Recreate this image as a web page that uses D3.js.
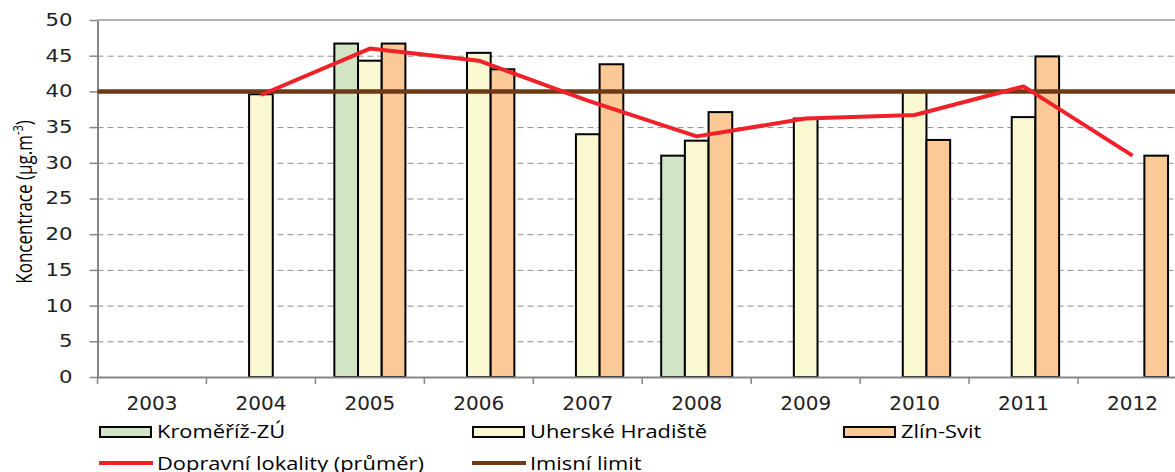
<!DOCTYPE html>
<html>
<head>
<meta charset="utf-8">
<script src="https://cdn.jsdelivr.net/npm/d3@7"></script>
<style>
body { margin: 0; background: #fff; }
svg { display: block; background: #fff; }
</style>
</head>
<body>
<svg class="chart"></svg>
<script>
// data
const years = ["2003", "2004", "2005", "2006", "2007", "2008", "2009", "2010", "2011", "2012"]
const kromeriz = [null, null, 46.7, null, null, 31.0, null, null, null, null]
const uherske = [null, 39.6, 44.3, 45.4, 34.0, 33.1, 36.2, 39.9, 36.4, null]
const zlin = [null, null, 46.7, 43.1, 43.8, 37.1, null, 33.2, 44.9, 31.0]
const doprava = [null, 39.5, 46.0, 44.3, 38.7, 33.7, 36.2, 36.7, 40.7, 31.0]
const limit = 40
const yTicks = [0, 5, 10, 15, 20, 25, 30, 35, 40, 45, 50]
const barNames = ["Kroměříž-ZÚ", "Uherské Hradiště", "Zlín-Svit"]
const lineNames = ["Dopravní lokality (průměr)", "Imisní limit"]

const barColors = ["#d1e5c4", "#faf8d0", "#fbc996"]
const lineColors = ["#ee2228", "#6b3a16"]
const stretch = "scale(1.25,1)"

const width = 1175, height = 472
const plotLeft = 97.5, plotRight = 1187, plotTop = 20, plotBottom = 377

const svg = d3.select("svg.chart")
    .attr("width", width)
    .attr("height", height)

const xScale = d3.scaleBand()
    .domain(years)
    .range([plotLeft, plotRight])

const bw = xScale.bandwidth()

const xSub = d3.scaleBand()
    .domain(barNames)
    .range([0, bw])
    .paddingOuter(0.8)

const yScale = d3.scaleLinear()
    .domain([0, 50])
    .range([plotBottom, plotTop])

// gridlines
const grid = svg.append("g")
    .attr("transform", "translate(" + plotLeft + ",0)")
    .call(d3.axisLeft(yScale).tickValues(yTicks.slice(1, -1)).tickSize(-(plotRight - plotLeft)).tickFormat(""))
grid.select(".domain").remove()
grid.selectAll("line")
    .attr("stroke", "#8e8e8e")
    .attr("stroke-dasharray", "6,4")

svg.append("line")
    .attr("x1", plotLeft).attr("x2", plotRight)
    .attr("y1", yScale(50)).attr("y2", yScale(50))
    .attr("stroke", "#9a9a9a")
    .attr("stroke-width", 1.5)

// bars
const barSeries = [kromeriz, uherske, zlin]
barSeries.forEach((values, s) => {
    svg.append("g")
        .selectAll("rect")
        .data(values.map((v, i) => ({ year: years[i], value: v })).filter(d => d.value != null))
        .enter()
        .append("rect")
        .attr("x", d => xScale(d.year) + xSub(barNames[s]))
        .attr("y", d => yScale(d.value))
        .attr("width", xSub.bandwidth())
        .attr("height", d => yScale(0) - yScale(d.value))
        .attr("fill", barColors[s])
        .attr("stroke", "#000")
        .attr("stroke-width", 2)
})

// y axis
const yAxis = svg.append("g")
    .attr("transform", "translate(" + plotLeft + ",0)")
    .call(d3.axisLeft(yScale).tickValues(yTicks).tickSize(8).tickSizeOuter(0))
yAxis.select(".domain").attr("stroke", "#868686").attr("stroke-width", 2)
yAxis.selectAll("line").attr("stroke", "#868686").attr("stroke-width", 1.5)
yAxis.selectAll("text")
    .attr("x", -20)
    .attr("transform", stretch)
    .style("font-family", "DejaVu Sans")
    .style("font-size", "17px")
    .attr("fill", "#222")

// x axis: labels at centres, ticks at category edges
const xAxis = svg.append("g")
    .attr("transform", "translate(0," + plotBottom + ")")
    .call(d3.axisBottom(xScale).tickSize(0).tickSizeOuter(0))
xAxis.select(".domain").attr("stroke", "#868686").attr("stroke-width", 2)
xAxis.selectAll("text")
    .attr("y", 33)
    .attr("dy", 0)
    .style("font-family", "DejaVu Sans")
    .style("font-size", "20px")
    .attr("fill", "#222")

xAxis.selectAll(".edge")
    .data(years)
    .enter()
    .append("line")
    .classed("edge", true)
    .attr("x1", d => xScale(d)).attr("x2", d => xScale(d))
    .attr("y1", 0).attr("y2", 7)
    .attr("stroke", "#868686")
    .attr("stroke-width", 1.5)

// limit line
svg.append("path")
    .datum(xScale.range())
    .attr("d", d3.line().x(d => d).y(() => yScale(limit)))
    .attr("stroke", lineColors[1])
    .attr("stroke-width", 4.5)
    .attr("fill", "none")

// average line
const avgLine = d3.line()
    .defined(d => d != null)
    .x((d, i) => xScale(years[i]) + bw / 2)
    .y(d => yScale(d))

svg.append("path")
    .datum(doprava)
    .attr("d", avgLine)
    .attr("stroke", lineColors[0])
    .attr("stroke-width", 4)
    .attr("stroke-linejoin", "round")
    .attr("fill", "none")

// y title
const title = svg.append("text")
    .attr("transform", "translate(32,202) " + stretch + " rotate(-90)")
    .attr("text-anchor", "middle")
    .style("font-family", "Open Sans")
    .style("font-size", "17px")
    .attr("fill", "#000")
title.append("tspan").text("Koncentrace (µg.m")
title.append("tspan").attr("dy", -7).style("font-size", "11px").text("-3")
title.append("tspan").attr("dy", 7).text(")")

// legend
const legendCols = [99, 472, 843]
const legendRows = [432, 463]

barNames.forEach((name, i) => {
    const g = svg.append("g").attr("transform", "translate(" + legendCols[i] + "," + legendRows[0] + ")")
    g.append("rect")
        .attr("x", 1).attr("y", -5)
        .attr("width", 51).attr("height", 10)
        .attr("fill", barColors[i])
        .attr("stroke", "#000")
        .attr("stroke-width", 2)
    g.append("text")
        .attr("transform", "translate(58,6) " + stretch)
        .style("font-family", "Open Sans")
        .style("font-size", "17.5px")
        .attr("fill", "#000")
        .text(name)
})

lineNames.forEach((name, i) => {
    const g = svg.append("g").attr("transform", "translate(" + legendCols[i] + "," + legendRows[1] + ")")
    g.append("line")
        .attr("x1", 0).attr("x2", 54)
        .attr("stroke", lineColors[i])
        .attr("stroke-width", 4)
    g.append("text")
        .attr("transform", "translate(58,7) " + stretch)
        .style("font-family", "Open Sans")
        .style("font-size", "17.5px")
        .attr("fill", "#000")
        .text(name)
})
</script>
</body>
</html>
